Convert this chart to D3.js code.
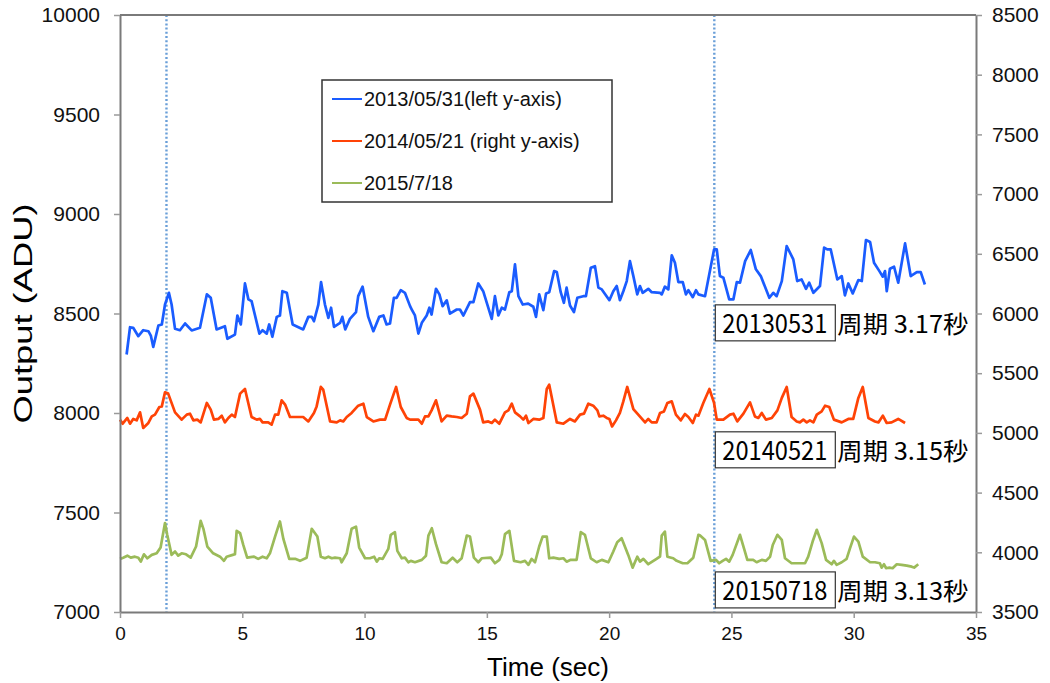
<!DOCTYPE html>
<html>
<head>
<meta charset="utf-8">
<script src="https://cdn.jsdelivr.net/npm/d3@7"></script>
<style>
  body { margin: 0; background: #fff; }
  svg { display: block; }
</style>
</head>
<body>
<div id="chart"></div>
<script>
// ---------- data ----------
// 2013/05/31, left y-axis
var blueT = [0.27,0.41,0.54,0.75,0.95,1.16,1.26,1.36,1.57,1.71,1.84,2.00,2.11,2.25,2.45,2.66,2.93,3.27,3.55,3.71,3.95,4.29,4.39,4.70,4.80,4.94,5.11,5.25,5.38,5.70,5.83,6.00,6.10,6.23,6.41,6.54,6.64,6.82,7.06,7.49,7.70,7.84,7.93,8.11,8.22,8.38,8.52,8.63,8.75,9.00,9.09,9.21,9.40,9.65,9.74,9.92,10.15,10.36,10.60,10.77,10.90,11.04,11.20,11.31,11.48,11.65,11.86,11.93,12.06,12.20,12.34,12.54,12.65,12.74,12.92,13.06,13.19,13.36,13.49,13.77,13.90,14.04,14.31,14.45,14.65,14.85,15.20,15.33,15.47,15.61,15.74,15.92,16.02,16.15,16.29,16.47,16.69,16.90,17.01,17.14,17.31,17.42,17.55,17.75,17.86,18.02,18.15,18.26,18.40,18.56,18.70,18.94,19.05,19.25,19.42,19.56,19.70,20.01,20.17,20.31,20.44,20.58,20.72,20.85,20.99,21.15,21.26,21.37,21.60,21.74,22.08,22.15,22.28,22.42,22.56,22.69,22.83,23.01,23.14,23.24,23.42,23.55,23.65,23.92,24.12,24.29,24.40,24.53,24.67,24.91,25.08,25.22,25.35,25.56,25.79,26.00,26.20,26.55,26.71,26.85,27.06,27.26,27.53,27.69,27.87,28.05,28.18,28.35,28.62,28.79,28.92,29.06,29.33,29.51,29.64,29.78,29.96,30.19,30.33,30.50,30.67,30.83,31.05,31.19,31.28,31.35,31.48,31.65,31.82,32.10,32.33,32.58,32.74,32.91];
var blueV = [8294,8431,8428,8386,8416,8411,8389,8332,8440,8445,8545,8604,8545,8423,8416,8450,8415,8428,8596,8579,8420,8436,8373,8394,8490,8445,8651,8571,8562,8399,8416,8399,8445,8383,8483,8490,8612,8604,8445,8420,8483,8483,8461,8545,8658,8545,8478,8529,8433,8453,8483,8420,8473,8507,8587,8635,8483,8411,8483,8490,8445,8450,8579,8579,8617,8604,8537,8520,8490,8399,8453,8490,8529,8495,8624,8596,8537,8566,8499,8520,8520,8490,8557,8557,8651,8612,8473,8587,8490,8529,8520,8607,8612,8747,8587,8545,8550,8534,8483,8596,8517,8601,8607,8713,8708,8607,8554,8630,8540,8507,8579,8587,8587,8730,8738,8630,8621,8567,8612,8638,8567,8612,8663,8763,8688,8596,8638,8604,8624,8607,8604,8596,8635,8621,8792,8755,8658,8658,8596,8617,8582,8617,8596,8587,8713,8822,8822,8688,8680,8571,8571,8658,8655,8763,8819,8722,8688,8579,8604,8587,8663,8839,8772,8663,8671,8624,8655,8604,8638,8831,8822,8822,8671,8688,8591,8651,8601,8668,8663,8869,8859,8755,8713,8685,8713,8612,8725,8735,8655,8852,8688,8708,8708,8646];

// 2014/05/21, right y-axis
var redT = [0.00,0.11,0.30,0.41,0.54,0.68,0.82,0.95,1.16,1.30,1.43,1.61,1.71,1.84,1.97,2.25,2.52,2.73,2.86,3.00,3.16,3.30,3.55,3.71,3.84,4.02,4.16,4.29,4.43,4.57,4.70,4.91,5.11,5.38,5.59,5.72,5.83,6.06,6.20,6.34,6.47,6.61,6.75,6.95,7.49,7.70,7.93,8.04,8.21,8.31,8.59,8.86,9.00,9.13,9.27,9.47,9.74,9.95,10.09,10.36,10.63,10.84,11.04,11.29,11.48,11.72,11.86,12.20,12.34,12.47,12.61,12.74,12.92,13.15,13.36,13.56,13.77,13.97,14.18,14.31,14.45,14.72,14.85,15.06,15.20,15.33,15.51,15.74,15.88,16.02,16.15,16.36,16.49,16.60,16.70,16.90,17.14,17.31,17.45,17.55,17.86,18.13,18.40,18.60,18.81,18.97,19.15,19.35,19.52,19.60,19.76,19.90,20.01,20.12,20.28,20.44,20.58,20.74,20.99,21.19,21.47,21.60,21.74,21.94,22.08,22.24,22.38,22.56,22.73,22.93,23.10,23.24,23.42,23.55,23.65,23.85,24.10,24.29,24.40,24.67,24.94,25.08,25.24,25.49,25.76,25.96,26.10,26.24,26.41,26.65,26.88,27.06,27.26,27.46,27.67,27.80,27.94,28.08,28.21,28.35,28.49,28.69,28.83,29.00,29.19,29.51,29.78,29.98,30.19,30.37,30.60,30.87,31.01,31.19,31.35,31.55,31.82,32.10];
var redV = [5111,5077,5125,5077,5117,5105,5172,5041,5083,5138,5153,5217,5222,5340,5329,5172,5111,5153,5161,5105,5111,5088,5251,5195,5111,5117,5144,5088,5125,5153,5133,5329,5368,5133,5111,5117,5088,5088,5069,5153,5153,5273,5237,5133,5133,5096,5167,5222,5385,5362,5096,5088,5105,5096,5133,5167,5228,5245,5133,5096,5111,5111,5237,5385,5217,5125,5111,5111,5077,5138,5138,5189,5273,5096,5144,5138,5133,5125,5161,5306,5329,5195,5088,5096,5083,5111,5077,5172,5189,5245,5172,5138,5111,5144,5083,5117,5111,5125,5368,5404,5088,5077,5117,5096,5153,5161,5245,5228,5189,5138,5144,5125,5117,5054,5105,5167,5264,5385,5200,5153,5088,5117,5088,5088,5167,5180,5251,5264,5153,5105,5158,5133,5083,5153,5144,5251,5368,5251,5111,5111,5153,5161,5096,5161,5256,5138,5125,5167,5111,5125,5189,5293,5385,5133,5096,5088,5111,5088,5105,5088,5153,5180,5228,5217,5111,5088,5117,5117,5293,5385,5125,5096,5088,5144,5083,5088,5117,5083];

// 2015/7/18, drawn against the left y-axis
var greenT = [0.00,0.13,0.30,0.44,0.61,0.75,0.85,0.98,1.12,1.30,1.50,1.66,1.84,1.93,2.11,2.25,2.38,2.52,2.70,2.89,3.11,3.30,3.41,3.57,3.81,4.09,4.25,4.36,4.61,4.70,4.77,4.91,5.04,5.20,5.48,5.65,5.83,6.00,6.13,6.34,6.54,6.68,6.92,7.16,7.36,7.63,7.84,8.07,8.21,8.38,8.52,8.66,8.79,9.00,9.06,9.27,9.47,9.65,9.78,10.02,10.22,10.39,10.50,10.60,10.74,10.97,11.07,11.24,11.34,11.52,11.65,11.79,11.89,12.06,12.34,12.51,12.61,12.75,12.92,13.15,13.36,13.60,13.79,13.97,14.18,14.31,14.47,14.65,14.79,15.16,15.33,15.51,15.61,15.74,15.92,16.11,16.38,16.56,16.70,16.83,16.97,17.14,17.28,17.45,17.55,17.72,17.96,18.13,18.26,18.43,18.67,18.84,19.01,19.25,19.49,19.70,19.97,20.17,20.33,20.51,20.78,20.96,21.15,21.26,21.40,21.60,21.97,22.08,22.15,22.28,22.38,22.62,22.76,23.01,23.20,23.44,23.65,23.72,23.92,24.15,24.37,24.50,24.64,24.78,24.91,25.05,25.35,25.51,25.65,25.89,26.03,26.24,26.41,26.58,26.69,26.88,27.06,27.19,27.46,27.73,28.01,28.14,28.32,28.49,28.69,28.87,29.10,29.19,29.30,29.51,29.71,29.85,30.01,30.19,30.37,30.67,30.87,31.07,31.14,31.24,31.32,31.46,31.59,31.76,31.96,32.17,32.37,32.47,32.64];
var greenV = [7267,7273,7283,7273,7278,7273,7253,7290,7270,7287,7295,7324,7447,7388,7287,7304,7283,7295,7290,7273,7329,7458,7418,7329,7295,7278,7257,7278,7287,7290,7408,7396,7337,7273,7278,7267,7278,7270,7295,7379,7455,7367,7267,7267,7257,7273,7418,7379,7278,7270,7278,7270,7273,7270,7250,7295,7418,7429,7324,7270,7270,7278,7253,7270,7267,7317,7388,7401,7307,7270,7273,7250,7257,7250,7262,7283,7384,7421,7341,7250,7245,7273,7250,7270,7384,7379,7273,7250,7270,7273,7245,7262,7290,7391,7408,7257,7250,7257,7237,7267,7250,7329,7379,7379,7270,7273,7267,7270,7253,7262,7262,7401,7388,7270,7250,7262,7250,7304,7351,7371,7287,7223,7278,7253,7267,7240,7270,7278,7384,7404,7278,7270,7257,7245,7245,7273,7388,7384,7362,7257,7262,7245,7257,7267,7253,7287,7388,7321,7262,7262,7250,7262,7257,7278,7337,7388,7362,7270,7245,7245,7245,7278,7354,7413,7346,7262,7240,7257,7237,7250,7267,7321,7379,7354,7278,7250,7250,7245,7223,7240,7220,7223,7220,7240,7237,7233,7228,7223,7240];

var seriesNames = ["2013/05/31(left y-axis)", "2014/05/21 (right y-axis)", "2015/7/18"];
var seriesColors = ["#1a5cff", "#ff4306", "#9bbb59"];

var xTicks = [0, 5, 10, 15, 20, 25, 30, 35];
var leftTicks = [7000, 7500, 8000, 8500, 9000, 9500, 10000];
var rightTicks = [3500, 4000, 4500, 5000, 5500, 6000, 6500, 7000, 7500, 8000, 8500];

// dotted period markers (sec)
var markerT = [1.9, 24.3];

// period boxes: label, period text, level on the left axis
var annoLabels = ["20130531", "20140521", "20150718"];
var annoPeriods = ["周期 3.17秒", "周期 3.15秒", "周期 3.13秒"];
var annoLevels = [8453, 7815, 7111];

// ---------- layout ----------
const width = 1050;
const height = 683;
const margin = {top: 15, right: 74, bottom: 71, left: 120};

var x = d3.scaleLinear().domain([0, 35]).range([margin.left, width - margin.right]);
var yL = d3.scaleLinear().domain([7000, 10000]).range([height - margin.bottom, margin.top]);
var yR = d3.scaleLinear().domain([3500, 8500]).range([height - margin.bottom, margin.top]);

var svg = d3.select("#chart").append("svg")
    .attr("width", width)
    .attr("height", height)
    .style("font-family", "'Liberation Sans', Arial, sans-serif");

// dotted markers
svg.selectAll("line.marker")
    .data(markerT)
    .enter()
    .append("line")
    .attr("class", "marker")
    .attr("x1", d => x(d)).attr("x2", d => x(d))
    .attr("y1", margin.top).attr("y2", height - margin.bottom)
    .attr("stroke", "#6a9fd8")
    .attr("stroke-width", 2.4)
    .attr("stroke-dasharray", "2,2.2");

// ---------- lines ----------
var series = [
    {data: d3.zip(blueT, blueV), y: yL},
    {data: d3.zip(redT, redV), y: yR},
    {data: d3.zip(greenT, greenV), y: yL}
];

series.forEach(function(s, i) {
    var line = d3.line()
        .x(d => x(d[0]))
        .y(d => s.y(d[1]));
    svg.append("path")
        .datum(s.data)
        .attr("d", line)
        .attr("fill", "none")
        .attr("stroke", seriesColors[i])
        .attr("stroke-width", 2.7)
        .attr("stroke-linejoin", "round");
});

// ---------- axes ----------
function styleAxis(g) {
    g.select(".domain").attr("stroke", "#7a7a7a").attr("stroke-width", 2);
    g.selectAll(".tick line").attr("stroke", "#9a9a9a").attr("stroke-width", 1.5);
    g.selectAll(".tick text").attr("fill", "#111");
}

svg.append("g")
    .attr("transform", "translate(" + margin.left + ",0)")
    .call(d3.axisLeft(yL).tickValues(leftTicks).tickFormat(d3.format("d"))
        .tickSize(6).tickSizeOuter(0).tickPadding(14))
    .call(styleAxis)
    .selectAll("text").style("font-size", "21px");

svg.append("g")
    .attr("transform", "translate(" + (width - margin.right) + ",0)")
    .call(d3.axisRight(yR).tickValues(rightTicks).tickFormat(d3.format("d"))
        .tickSize(6).tickSizeOuter(0).tickPadding(10))
    .call(styleAxis)
    .selectAll("text").style("font-size", "21px");

svg.append("g")
    .attr("transform", "translate(0," + (height - margin.bottom) + ")")
    .call(d3.axisBottom(x).tickValues(xTicks).tickSize(6).tickSizeOuter(0).tickPadding(9))
    .call(styleAxis)
    .selectAll("text")
    .style("font-size", "19px");

// top border
svg.append("line")
    .attr("x1", margin.left).attr("x2", width - margin.right)
    .attr("y1", margin.top).attr("y2", margin.top)
    .attr("stroke", "#7a7a7a").attr("stroke-width", 2);

// axis titles
svg.append("text")
    .attr("x", x(17.5))
    .attr("y", 676)
    .attr("text-anchor", "middle")
    .style("font-size", "25px")
    .attr("textLength", 122)
    .attr("lengthAdjust", "spacingAndGlyphs")
    .text("Time (sec)");

svg.append("text")
    .attr("transform", "translate(32," + yL(8500) + ") rotate(-90)")
    .attr("text-anchor", "middle")
    .style("font-size", "25px")
    .attr("textLength", 220)
    .attr("lengthAdjust", "spacingAndGlyphs")
    .text("Output (ADU)");

// ---------- legend ----------
var legend = svg.append("g").attr("transform", "translate(322,80)");
legend.append("rect")
    .attr("width", 290).attr("height", 122)
    .attr("fill", "#fff")
    .attr("stroke", "#333").attr("stroke-width", 1.5);

var rows = legend.selectAll("g.row")
    .data(seriesNames)
    .enter()
    .append("g")
    .attr("class", "row")
    .attr("transform", (d, i) => "translate(0," + (19 + i * 42) + ")");
rows.append("line")
    .attr("x1", 10).attr("x2", 40)
    .attr("stroke", (d, i) => seriesColors[i])
    .attr("stroke-width", 2);
rows.append("text")
    .attr("x", 42)
    .attr("y", 7)
    .style("font-size", "20px")
    .attr("fill", "#111")
    .text(d => d);

// ---------- period boxes ----------
var anno = svg.selectAll("g.anno")
    .data(annoLabels)
    .enter()
    .append("g")
    .attr("class", "anno")
    .attr("transform", (d, i) => "translate(" + x(markerT[1]) + "," + yL(annoLevels[i]) + ")");
anno.append("rect")
    .attr("x", 1).attr("y", -18)
    .attr("width", 120).attr("height", 36)
    .attr("fill", "#fff")
    .attr("stroke", "#333").attr("stroke-width", 1.2);
anno.append("text")
    .attr("x", 8).attr("y", 10)
    .style("font-family", "'Noto Sans CJK JP', sans-serif")
    .style("font-size", "26px")
    .attr("textLength", 105)
    .attr("lengthAdjust", "spacingAndGlyphs")
    .attr("fill", "#000")
    .text(d => d);
anno.append("text")
    .attr("x", 123).attr("y", 10)
    .style("font-family", "'Noto Sans CJK JP', sans-serif")
    .style("font-size", "24px")
    .attr("textLength", 131)
    .attr("lengthAdjust", "spacingAndGlyphs")
    .attr("fill", "#000")
    .text((d, i) => annoPeriods[i]);
</script>
</body>
</html>
